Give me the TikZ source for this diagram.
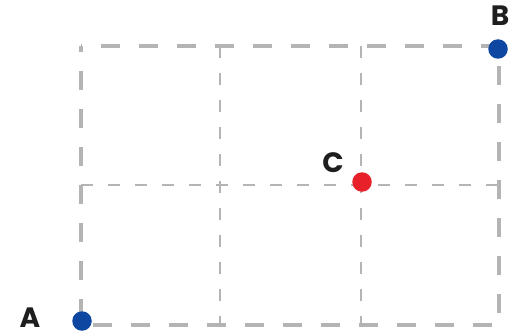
\documentclass[tikz,border=0pt]{standalone}
\usepackage{fontspec}
\setmainfont{Poppins}
\definecolor{gridgray}{HTML}{B4B4B4}
\definecolor{dotblue}{HTML}{0D47A1}
\definecolor{dotred}{HTML}{E8202A}
\definecolor{labelblack}{HTML}{1E1E1E}
\begin{document}
\begin{tikzpicture}[x=1pt,y=-1pt,
  outer/.style={draw=gridgray,line width=3.2pt,dash pattern=on 19pt off 19pt,dash phase=13pt},
  inner/.style={draw=gridgray,line width=1.8pt,dash pattern=on 12pt off 15pt},
  dot/.style={circle,inner sep=0pt,minimum size=19.5pt},
  lbl/.style={font=\fontsize{28}{28}\selectfont\bfseries,text=labelblack,inner sep=0pt}]
\useasboundingbox (0,0) rectangle (510,334);
% grid coordinates
\coordinate (tl) at (81,46);
\coordinate (br) at (499,325);
\coordinate (v1t) at (220,46);
\coordinate (v1b) at (220,325);
\coordinate (v2t) at (361,46);
\coordinate (v2b) at (361,325);
\coordinate (hl) at (81,185);
\coordinate (hr) at (499,185);
% inner lines
\draw[inner] (v1t) -- (v1b);
\draw[inner] (v2t) -- (v2b);
\draw[inner] (hl) -- (hr);
% outer frame
\draw[outer] (tl) rectangle (br);
% points
\node[dot,fill=dotblue] (A) at (82,321) {};
\node[dot,fill=dotblue] (B) at (498,49) {};
\node[dot,fill=dotred] (C) at (362,182) {};
% labels
\node[lbl] (la) at (30,318) {A};
\node[lbl] (lb) at (500,16) {B};
\node[lbl] (lc) at (333,163) {C};
\end{tikzpicture}
\end{document}
